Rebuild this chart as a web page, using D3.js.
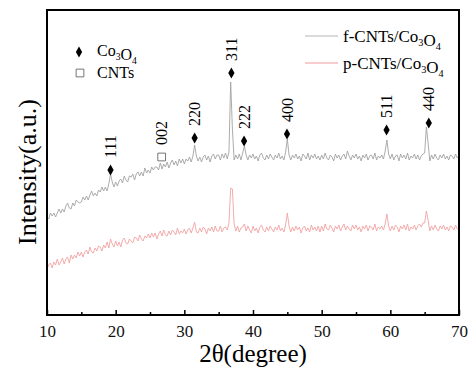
<!DOCTYPE html>
<html>
<head>
<meta charset="utf-8">
<script src="https://cdn.jsdelivr.net/npm/d3@7"></script>
<style>
  body { margin: 0; background: #fff; }
  svg text { font-family: "Liberation Serif", "Times New Roman", serif; }
</style>
</head>
<body>
<div id="chart"></div>
<script>
// 2theta grid: 10..70 in 0.25 degree steps
const thetaStart = 10, thetaStep = 0.25;

// f-CNTs/Co3O4 (a.u.)
const fCnt = [
  980, 960, 1020, 990, 1020, 980, 1020, 1060, 1020, 1060, 1030, 1090, 1120, 1070, 1060, 1120, 1090, 1150, 1130, 1120,
  1130, 1180, 1150, 1190, 1150, 1200, 1240, 1190, 1220, 1190, 1250, 1230, 1280, 1240, 1280, 1240, 1310, 1410, 1330, 1280,
  1330, 1290, 1340, 1360, 1320, 1390, 1350, 1330, 1390, 1380, 1410, 1350, 1410, 1430, 1390, 1430, 1390, 1470, 1420, 1450,
  1420, 1480, 1450, 1480, 1480, 1450, 1520, 1460, 1510, 1480, 1530, 1470, 1520, 1550, 1500, 1540, 1490, 1560, 1520, 1560,
  1510, 1560, 1540, 1580, 1530, 1590, 1700, 1590, 1540, 1580, 1530, 1580, 1600, 1550, 1590, 1530, 1590, 1610, 1560, 1600,
  1600, 1550, 1610, 1570, 1620, 1560, 1630, 2330, 1860, 1550, 1600, 1560, 1610, 1550, 1620, 1690, 1600, 1550, 1600, 1570,
  1610, 1560, 1590, 1540, 1600, 1620, 1570, 1550, 1600, 1560, 1610, 1580, 1550, 1600, 1570, 1620, 1560, 1590, 1550, 1630,
  1760, 1600, 1550, 1600, 1570, 1610, 1560, 1590, 1540, 1610, 1590, 1560, 1620, 1550, 1600, 1570, 1610, 1560, 1590, 1550,
  1600, 1560, 1620, 1570, 1550, 1600, 1580, 1540, 1610, 1570, 1600, 1550, 1590, 1610, 1560, 1640, 1590, 1550, 1600, 1570,
  1610, 1560, 1590, 1540, 1600, 1570, 1610, 1550, 1590, 1600, 1560, 1620, 1550, 1590, 1570, 1600, 1560, 1640, 1750, 1610,
  1560, 1610, 1550, 1590, 1600, 1540, 1610, 1570, 1600, 1560, 1620, 1550, 1590, 1570, 1610, 1560, 1600, 1550, 1590, 1610,
  1620, 1880, 1720, 1540, 1600, 1560, 1610, 1570, 1550, 1600, 1570, 1610, 1560, 1590, 1550, 1600, 1590, 1560, 1610, 1570,
  1590
];

// p-CNTs/Co3O4 (a.u.)
const pCnt = [
  460, 500, 520, 470, 530, 500, 560, 500, 530, 570, 510, 560, 580, 520, 600, 560, 600, 570, 630, 590,
  630, 580, 630, 650, 610, 680, 630, 620, 670, 640, 690, 680, 640, 700, 670, 730, 670, 760, 710, 680,
  740, 690, 730, 680, 750, 770, 720, 710, 760, 740, 720, 780, 770, 740, 800, 760, 740, 790, 770, 810,
  770, 820, 780, 820, 760, 810, 840, 790, 850, 800, 790, 840, 800, 850, 830, 800, 870, 810, 840, 820,
  860, 810, 850, 870, 820, 870, 930, 830, 820, 870, 830, 880, 860, 810, 870, 840, 880, 830, 890, 840,
  840, 890, 830, 870, 880, 850, 920, 1270, 1260, 910, 840, 890, 830, 870, 880, 910, 840, 890, 850, 820,
  890, 840, 870, 820, 880, 900, 850, 830, 880, 840, 890, 860, 830, 880, 850, 900, 840, 870, 830, 900,
  1020, 890, 830, 880, 840, 890, 850, 880, 820, 870, 890, 840, 870, 830, 900, 850, 880, 840, 890, 830,
  890, 840, 910, 860, 850, 900, 870, 830, 890, 860, 900, 840, 880, 910, 850, 890, 860, 840, 900, 860,
  900, 850, 880, 830, 890, 860, 900, 840, 890, 880, 850, 910, 840, 880, 860, 890, 850, 910, 1010, 890,
  840, 890, 850, 900, 880, 830, 890, 860, 900, 850, 910, 840, 880, 860, 900, 850, 890, 910, 880, 920,
  920, 1040, 950, 840, 890, 850, 900, 860, 840, 890, 860, 900, 850, 880, 840, 890, 880, 850, 900, 860,
  870
];

// peak markers
const peakTheta = [19.25, 26.7, 31.5, 36.85, 38.7, 44.95, 59.45, 65.6];
const peakLevel = [1450, 1580, 1770, 2420, 1740, 1810, 1850, 1920];
const peakLabel = ["111", "002", "220", "311", "222", "400", "511", "440"];
const peakPhase = ["Co3O4", "CNTs", "Co3O4", "Co3O4", "Co3O4", "Co3O4", "Co3O4", "Co3O4"];

const xTicks = [10, 20, 30, 40, 50, 60, 70];
const xMinorTicks = [15, 25, 35, 45, 55, 65];

const W = 470, H = 369;
const margin = { top: 10, right: 11, bottom: 54, left: 47 };

const svg = d3.select("#chart").append("svg")
  .attr("width", W).attr("height", H);

const x = d3.scaleLinear().domain([10, 70]).range([margin.left, W - margin.right]);
const y = d3.scaleLinear().domain([0, 3050]).range([H - margin.bottom, margin.top]);

const line = d3.line()
  .x((d, i) => x(thetaStart + i * thetaStep))
  .y(d => y(d));

svg.append("path").datum(pCnt)
  .attr("fill", "none").attr("stroke", "#f3a3a3").attr("stroke-width", 0.9)
  .attr("d", line);
svg.append("path").datum(fCnt)
  .attr("fill", "none").attr("stroke", "#a3a3a3").attr("stroke-width", 0.9)
  .attr("d", line);

// axes
const xAxis = svg.append("g")
  .attr("transform", `translate(0,${H - margin.bottom})`)
  .call(d3.axisBottom(x).tickValues(xTicks).tickSizeInner(-5).tickSizeOuter(0).tickPadding(10));
xAxis.attr("font-family", null).attr("font-size", null);
xAxis.select(".domain").remove();
xAxis.selectAll("line").attr("stroke-width", 1.5);
xAxis.selectAll("text").attr("font-size", 17).attr("fill", "#111");

const xMinor = svg.append("g")
  .attr("transform", `translate(0,${H - margin.bottom})`)
  .call(d3.axisBottom(x).tickValues(xMinorTicks).tickSizeInner(-3).tickSizeOuter(0).tickFormat(""));
xMinor.select(".domain").remove();
xMinor.selectAll("line").attr("stroke-width", 1.5);

// frame
svg.append("rect")
  .attr("x", margin.left).attr("y", margin.top)
  .attr("width", W - margin.left - margin.right)
  .attr("height", H - margin.top - margin.bottom)
  .attr("fill", "none").attr("stroke", "#000").attr("stroke-width", 2);

// axis titles
svg.append("text")
  .attr("x", (margin.left + W - margin.right) / 2).attr("y", 362)
  .attr("text-anchor", "middle").attr("font-size", 25)
  .text("2θ(degree)");
svg.append("text")
  .attr("transform", `translate(36,172) rotate(-90)`)
  .attr("text-anchor", "middle").attr("font-size", 26)
  .text("Intensity(a.u.)");

// peak markers
const diamond = d3.symbol().type(d3.symbolDiamond).size(34);
const peaks = peakTheta.map((t, i) => ({ t, v: peakLevel[i], label: peakLabel[i], phase: peakPhase[i] }));

svg.selectAll("path.mark").data(peaks).join("path")
  .attr("class", "mark")
  .attr("transform", d => `translate(${x(d.t)},${y(d.v)})`)
  .attr("d", d => d.phase === "CNTs" ? d3.symbol().type(d3.symbolSquare).size(60)() : diamond())
  .attr("fill", d => d.phase === "CNTs" ? "#fff" : "#000")
  .attr("stroke", d => d.phase === "CNTs" ? "#555" : "none")
  .attr("stroke-width", 0.8);

svg.selectAll("text.hkl").data(peaks).join("text")
  .attr("class", "hkl")
  .attr("transform", d => `translate(${x(d.t)},${y(d.v) - 12}) rotate(-90)`)
  .attr("dy", "0.35em")
  .attr("font-size", 16)
  .text(d => d.label);

// phase legend
function chem(sel, parts) {
  parts.forEach(p => {
    if (p.sub) {
      sel.append("tspan").attr("font-size", "0.6em").attr("dy", 4).text(p.t);
      sel.append("tspan").attr("dy", -4).text("");
    } else {
      sel.append("tspan").text(p.t);
    }
  });
}
const co3o4 = [{ t: "Co" }, { t: "3", sub: true }, { t: "O" }, { t: "4", sub: true }];

svg.append("path")
  .attr("transform", "translate(79,52)")
  .attr("d", diamond()).attr("fill", "#000");
chem(svg.append("text").attr("x", 97).attr("y", 56).attr("font-size", 16), co3o4);

svg.append("path")
  .attr("transform", "translate(80,73)")
  .attr("d", d3.symbol().type(d3.symbolSquare).size(60)())
  .attr("fill", "#fff").attr("stroke", "#555").attr("stroke-width", 0.8);
svg.append("text").attr("x", 97).attr("y", 78).attr("font-size", 16).text("CNTs");

// series legend
const legend = [
  { name: "f-CNTs/", color: "#b5b5b5", y: 36 },
  { name: "p-CNTs/", color: "#f19a9a", y: 63 }
];
legend.forEach(l => {
  svg.append("line")
    .attr("x1", 305).attr("x2", 338).attr("y1", l.y).attr("y2", l.y)
    .attr("stroke", l.color).attr("stroke-width", 1);
  const t = svg.append("text").attr("x", 343).attr("y", l.y + 6).attr("font-size", 17);
  t.append("tspan").text(l.name);
  chem(t, co3o4);
});
</script>
</body>
</html>
